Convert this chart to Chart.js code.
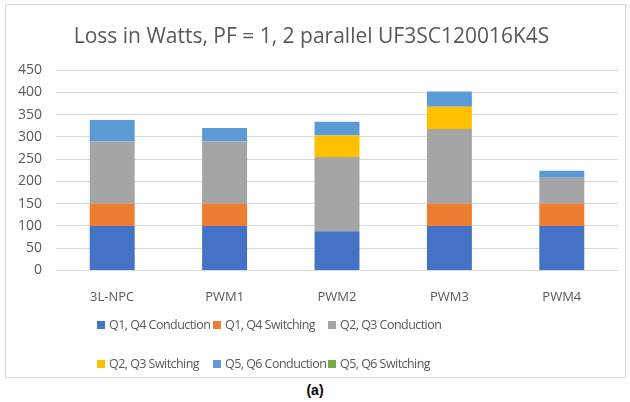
<!DOCTYPE html>
<html>
<head>
<meta charset="utf-8">
<script src="https://cdn.jsdelivr.net/npm/chart.js@4.4.1/dist/chart.umd.min.js"></script>
<style>
  body { margin: 0; background: #fff; font-family: "Open Sans", sans-serif; }
  #frame { position: absolute; left: 5px; top: 4px; width: 621px; height: 374px; border: 1px solid #D9D9D9; box-sizing: border-box; }
  #wrap { position: absolute; left: 0; top: 0; width: 630px; height: 316px; }
  #legend { position: absolute; left: 97px; top: 315px; width: 440px; display: grid; grid-template-columns: 116px 115px 160px; row-gap: 20px; font-family: "Open Sans", sans-serif; font-size: 12.5px; letter-spacing: -0.55px; color: #595959; }
  #legend div { display: flex; align-items: center; white-space: nowrap; height: 19px; }
  #legend span.box { display: inline-block; flex-shrink: 0; width: 8px; height: 8px; margin-right: 4px; }
  #caption { position: absolute; left: 0; width: 630px; top: 382px; text-align: center; font-family: "Liberation Sans", Arial, sans-serif; font-weight: bold; font-size: 14px; color: #000; }
</style>
</head>
<body>
<div id="frame"></div>
<div id="wrap"><canvas id="bar"></canvas></div>
<div id="legend"></div>
<div id="caption">(a)</div>
<script>
const categories = ['3L-NPC', 'PWM1', 'PWM2', 'PWM3', 'PWM4'];
const q14Conduction = [100, 100, 88, 100, 100];
const q14Switching = [50, 50, 0, 50, 50];
const q23Conduction = [140, 140, 167, 168, 58];
const q23Switching = [0, 0, 48, 50, 0];
const q56Conduction = [48, 30, 31, 34, 16];
const q56Switching = [0, 0, 0, 0, 0];
const yTicks = [0, 50, 100, 150, 200, 250, 300, 350, 400, 450];

const seriesNames = ['Q1, Q4 Conduction', 'Q1, Q4 Switching', 'Q2, Q3 Conduction',
  'Q2, Q3 Switching', 'Q5, Q6 Conduction', 'Q5, Q6 Switching'];
const seriesData = [q14Conduction, q14Switching, q23Conduction, q23Switching, q56Conduction, q56Switching];
const colors = ['#4472C4', '#ED7D31', '#A5A5A5', '#FFC000', '#5B9BD5', '#70AD47'];

const ctx = document.getElementById('bar').getContext('2d');
new Chart(ctx, {
  type: 'bar',
  data: {
    labels: categories,
    datasets: seriesNames.map((name, i) => ({
      label: name,
      data: seriesData[i],
      backgroundColor: colors[i],
      categoryPercentage: 1,
      barPercentage: 0.4
    }))
  },
  options: {
    responsive: true,
    maintainAspectRatio: false,
    animation: false,
    layout: { padding: { left: 5, right: 12, top: 0, bottom: 0 } },
    plugins: {
      legend: { display: false },
      tooltip: { enabled: false },
      title: {
        display: true,
        text: 'Loss in Watts, PF = 1, 2 parallel UF3SC120016K4S',
        color: '#595959',
        font: { family: 'Open Sans', size: 21, weight: 'normal' },
        padding: { top: 24, bottom: 21 }
      }
    },
    scales: {
      x: {
        stacked: true,
        grid: { display: false },
        border: { color: '#D9D9D9' },
        ticks: { color: '#595959', font: { family: 'Open Sans', size: 13 }, padding: 11 }
      },
      y: {
        stacked: true,
        min: 0,
        max: 450,
        afterBuildTicks: s => { s.ticks = yTicks.map(v => ({ value: v })); },
        afterFit: s => { s.width = 51; },
        grid: { color: '#D9D9D9', drawTicks: false },
        border: { display: false },
        ticks: { color: '#595959', font: { family: 'Open Sans', size: 14 }, padding: 14 }
      }
    }
  }
});

const legend = document.getElementById('legend');
seriesNames.forEach((name, i) => {
  const item = document.createElement('div');
  item.innerHTML = '<span class="box" style="background:' + colors[i] + '"></span>' + name;
  legend.appendChild(item);
});
</script>
</body>
</html>
